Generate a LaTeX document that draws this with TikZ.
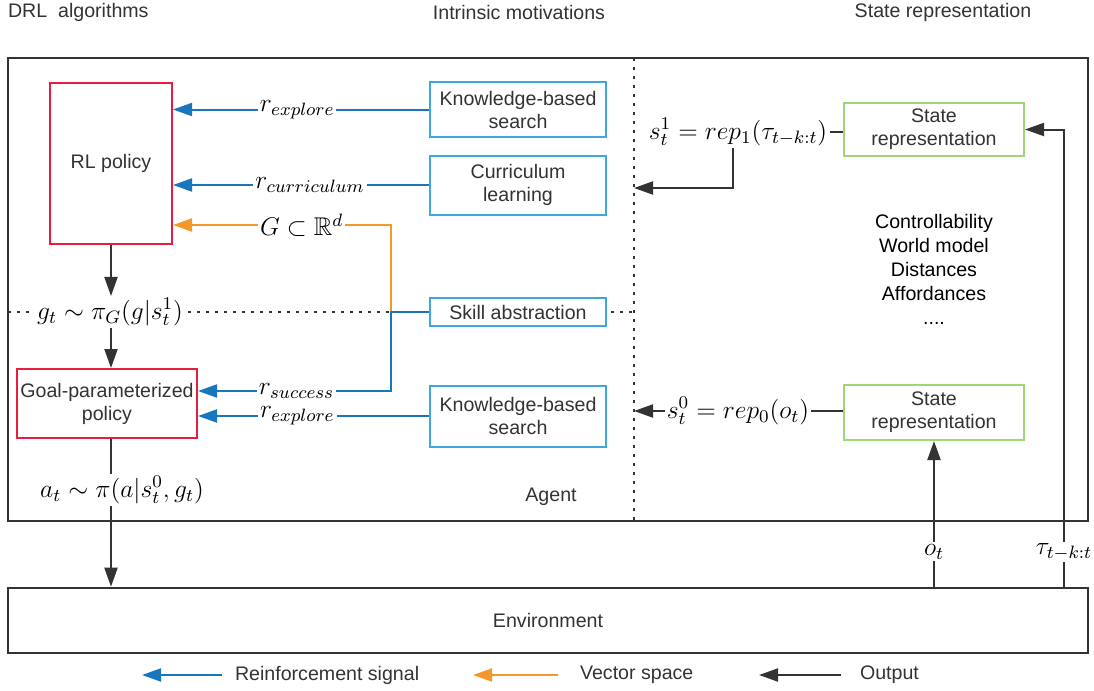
\RequirePackage{fix-cm}
\documentclass[tikz,border=0pt]{standalone}
\usepackage{amssymb,amsmath}
\usepackage[no-math]{fontspec}
\setmainfont{Liberation Sans}
\usetikzlibrary{arrows.meta}
\definecolor{drkgray}{RGB}{51,51,51}
\definecolor{polred}{RGB}{232,28,60}
\definecolor{imblue}{RGB}{62,168,222}
\definecolor{sigblue}{RGB}{24,118,188}
\definecolor{vecorange}{RGB}{244,152,44}
\definecolor{srgreen}{RGB}{158,214,120}
\tikzset{
  txt/.style={text=drkgray, font=\fontsize{9.8}{11.5}\selectfont},
  title/.style={txt},
  box/.style={txt, draw, line width=1pt, fill=white, align=center, inner sep=1pt},
  rlbox/.style={box, draw=polred},
  imbox/.style={box, draw=imblue, minimum width=88pt},
  srbox/.style={box, draw=srgreen, minimum width=90pt},
  outer/.style={draw=drkgray, line width=1.3pt},
  sep/.style={draw=drkgray, line width=0.8pt, dash pattern=on 1.5pt off 3pt},
  mlbl/.style={fill=white, inner sep=1pt, text=black, font=\fontsize{12.8}{14}\selectfont},
  rsig/.style={-{Triangle[length=9.5pt,width=6.5pt]}, line width=1pt, draw=sigblue},
  vsig/.style={-{Triangle[length=9.5pt,width=6.5pt]}, line width=1pt, draw=vecorange},
  outp/.style={-{Triangle[length=9.5pt,width=6.5pt]}, line width=1pt, draw=drkgray},
  plain/.style={line width=1pt, draw=drkgray}
}
\begin{document}
\begin{tikzpicture}[x=0.5pt,y=-0.5pt]
\useasboundingbox (0,0) rectangle (1094,691);
\node[title, anchor=west] (ttl1) at (1,12) {DRL\ \ algorithms};
\node[title] (ttl2) at (519,12) {Intrinsic motivations};
\node[title] (ttl3) at (943,12) {State representation};

\node[outer, minimum width=540pt, minimum height=231.5pt] (agent) at (548,289.5) {};
\coordinate (divtop) at (634,58);
\coordinate (divbot) at (634,521);
\coordinate (divleft) at (8,312);
\draw[sep] (divtop) -- (divbot);
\draw[sep] (divleft) -- (divleft -| divtop);

\node[rlbox, minimum width=61pt, minimum height=80.5pt] (rl) at (111,163.5) {RL policy};
\node[rlbox, minimum width=90pt, minimum height=34.5pt] (goal) at (107,403.5) {Goal-parameterized\\policy};
\node[imbox, minimum height=27.5pt] (kbs1) at (518,109.5) {Knowledge-based\\search};
\node[imbox, minimum height=29.5pt] (curr) at (518,185) {Curriculum\\learning};
\node[imbox, minimum height=14pt] (skill) at (518,312) {Skill abstraction};
\node[imbox, minimum height=30.5pt] (kbs2) at (518,416) {Knowledge-based\\search};
\node[srbox, minimum height=26.5pt] (sr1) at (934,129.5) {State\\representation};
\node[srbox, minimum height=27.5pt] (sr0) at (934,412.5) {State\\representation};
\node[outer, txt, minimum width=540pt, minimum height=32.5pt] (env) at (548,620.5) {Environment};
\node[txt] (agentlbl) at (551,497) {Agent};
\node[txt, text=black, align=center, font=\fontsize{9.8}{12}\selectfont] (props) at (934,269) {Controllability\\World model\\Distances\\Affordances\\....};

\node[mlbl] (gt) at (110,312) {$g_t \sim \pi_G(g|s_t^1)$};
\node[mlbl] (s1) at (738,132) {$s_t^1 = rep_1(\tau_{t-k:t})$};
\node[mlbl] (s0) at (738,411) {$s_t^0 = rep_0(o_t)$};

\draw[rsig] (kbs1.west) -- (kbs1.west -| rl.east) node[mlbl, pos=0.515] (rexp1) {$r_{explore}$};
\draw[rsig] (curr.west) -- (curr.west -| rl.east) node[mlbl, pos=0.465] (rcur) {$r_{curriculum}$};
\coordinate (jn) at (391,312);
\coordinate (gbend) at (391,225);
\coordinate (sbend) at (391,391);
\draw[vsig] (jn) -- (gbend) -- (gbend -| rl.east) node[mlbl, pos=0.41] (gspace) {$G \subset \mathbb{R}^d$};
\draw[rsig] (skill.west) -- (jn) -- (sbend) -- (sbend -| goal.east) node[mlbl, pos=0.49] (rsuc) {$r_{success}$};
\draw[rsig] (kbs2.west) -- (kbs2.west -| goal.east) node[mlbl, pos=0.57] (rexp2) {$r_{explore}$};

\draw[outp] (rl.south) -- (gt.north -| rl.south);
\draw[outp] (gt.south -| rl.south) -- (goal.north -| rl.south);
\draw[outp] (goal.south -| rl.south) -- (env.north -| rl.south);
\node[mlbl] (at) at (122,490) {$a_t \sim \pi(a|s_t^0, g_t)$};

\draw[plain] (s1.east) -- (s1.east -| sr1.west);
\coordinate (s1bend) at (733,188);
\draw[outp] (s1bend |- s1.south) -- (s1bend) -- (s1bend -| divtop);
\draw[plain] (s0.east) -- (s0.east -| sr0.west);
\draw[outp] (s0.west) -- (s0.west -| divtop);
\draw[outp] (env.north -| sr0.south) -- node[mlbl, pos=0.24] (ot) {$o_t$} (sr0.south);
\coordinate (taubend) at (1064,129.5);
\draw[outp] (env.north -| taubend) -- node[mlbl, pos=0.076] (tau) {$\tau_{t-k:t}$} (taubend) -- (sr1.east);

\node[txt, anchor=west] (lg1) at (228,675) {Reinforcement signal};
\draw[rsig] ([xshift=-3pt]lg1.west) -- ++(-80,0);
\node[txt, anchor=west] (lg2) at (573,675) {Vector space};
\draw[vsig] ([xshift=-7.5pt]lg2.west) -- ++(-85,0);
\node[txt, anchor=west] (lg3) at (853,675) {Output};
\draw[outp] ([xshift=-6pt]lg3.west) -- ++(-82,0);
\end{tikzpicture}
\end{document}
